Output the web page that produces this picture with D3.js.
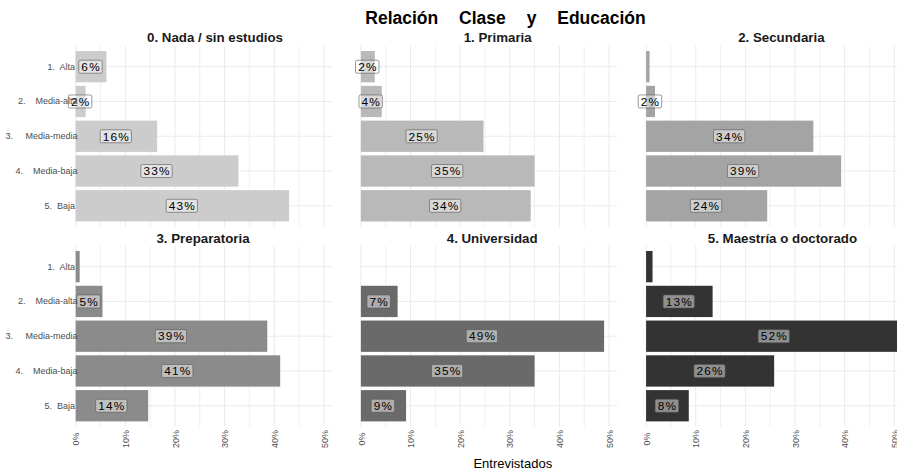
<!DOCTYPE html>
<html>
<head>
<meta charset="utf-8">
<script src="https://cdn.jsdelivr.net/npm/d3@7/dist/d3.min.js"></script>
<style>
  html, body { margin: 0; padding: 0; background: #ffffff; }
  svg { display: block; font-family: "Liberation Sans", Arial, Helvetica, sans-serif; }
</style>
</head>
<body>
<svg id="chart" width="897" height="471"></svg>
<script>
// ---------------- data ----------------
const chartTitle = "Relación Clase y Educación";
const xTitle = "Entrevistados";
const education = ["0. Nada / sin estudios", "1. Primaria", "2. Secundaria",
                   "3. Preparatoria", "4. Universidad", "5. Maestría o doctorado"];
const classes = ["1.  Alta ", "2.    Media-alta", "3.     Media-media", "4.    Media-baja", "5.  Baja "];

const pctNada        = [0.062, 0.020, 0.164, 0.328, 0.430];
const pctPrimaria    = [0.028, 0.042, 0.247, 0.350, 0.342];
const pctSecundaria  = [0.007, 0.018, 0.337, 0.393, 0.244];
const pctPrepa       = [0.008, 0.054, 0.386, 0.412, 0.146];
const pctUniversidad = [0.000, 0.074, 0.490, 0.350, 0.091];
const pctMaestria    = [0.013, 0.134, 0.517, 0.258, 0.086];

const labNada        = ["6%", "2%", "16%", "33%", "43%"];
const labPrimaria    = ["2%", "4%", "25%", "35%", "34%"];
const labSecundaria  = ["", "2%", "34%", "39%", "24%"];
const labPrepa       = ["", "5%", "39%", "41%", "14%"];
const labUniversidad = ["", "7%", "49%", "35%", "9%"];
const labMaestria    = ["", "13%", "52%", "26%", "8%"];

const xTicks = [0, 0.1, 0.2, 0.3, 0.4, 0.5];
const xMinor = [0.05, 0.15, 0.25, 0.35, 0.45];

// ---------------- layout ----------------
const seriesVals = [pctNada, pctPrimaria, pctSecundaria, pctPrepa, pctUniversidad, pctMaestria];
const seriesLabs = [labNada, labPrimaria, labSecundaria, labPrepa, labUniversidad, labMaestria];
const fills = ["#CCCCCC", "#B9B9B9", "#A4A4A4", "#8B8B8B", "#6A6A6A", "#333333"];

const panelLeft0 = 75.7, panelPitch = 285.2, panelW = 256.6;
const rowTops = [45.85, 245.8], panelH = 180.8;
const stripShift = [11, 8.5, 7, -1, 3, 8];
const stripBaseline = [41.7, 243.3];

const svg = d3.select("#chart");

const xMax = d3.max(seriesVals.flat());

// Title
svg.append("text")
  .attr("x", 505.5).attr("y", 23.5)
  .attr("text-anchor", "middle")
  .style("font-size", "17.5px").style("font-weight", "bold")
  .style("word-spacing", "16px")
  .attr("fill", "#000")
  .text(chartTitle);

education.forEach((edu, i) => {
  const col = i % 3, row = Math.floor(i / 3);
  const left = panelLeft0 + col * panelPitch;
  const top = rowTops[row];

  const x = d3.scaleLinear().domain([0, xMax]).range([left, left + panelW]);
  const y = d3.scaleBand().domain(classes).range([top, top + panelH])
              .paddingInner(0.1).paddingOuter(0.15);

  const g = svg.append("g");

  // grid
  g.selectAll(".hg").data(classes).enter().append("line")
    .attr("x1", left).attr("x2", left + panelW)
    .attr("y1", d => y(d) + y.bandwidth() / 2).attr("y2", d => y(d) + y.bandwidth() / 2)
    .attr("stroke", "#ebebeb").attr("stroke-width", 1);
  g.selectAll(".vm").data(xMinor).enter().append("line")
    .attr("x1", d => x(d)).attr("x2", d => x(d))
    .attr("y1", top).attr("y2", top + panelH)
    .attr("stroke", "#ebebeb").attr("stroke-width", 0.8);
  g.selectAll(".vg").data(xTicks).enter().append("line")
    .attr("x1", d => x(d)).attr("x2", d => x(d))
    .attr("y1", top).attr("y2", top + panelH)
    .attr("stroke", "#ebebeb").attr("stroke-width", 1);

  const data = classes.map((c, k) => ({ c, v: seriesVals[i][k], lab: seriesLabs[i][k] }));

  // bars
  g.selectAll(".bar").data(data.filter(d => d.v > 0)).enter().append("rect")
    .attr("x", x(0)).attr("y", d => y(d.c))
    .attr("width", d => x(d.v) - x(0)).attr("height", y.bandwidth())
    .attr("fill", fills[i]);

  // labels
  const lg = g.selectAll(".lab").data(data.filter(d => d.lab !== "")).enter().append("g")
    .attr("transform", d => `translate(${x(d.v / 2)},${y(d.c) + y.bandwidth() / 2})`);
  lg.append("rect");
  const texts = lg.append("text")
    .attr("text-anchor", "middle").attr("dy", "0.36em")
    .style("font-size", "11.8px").style("letter-spacing", "1.2px")
    .attr("fill", "#000")
    .text(d => d.lab);
  texts.each(function () {
    const w = this.getComputedTextLength() + 4;
    d3.select(this.previousSibling)
      .attr("x", -w / 2 - 0.6).attr("y", -6.5)
      .attr("width", w).attr("height", 13)
      .attr("rx", 1.5)
      .attr("fill", "#ffffff").attr("fill-opacity", 0.45)
      .attr("stroke", "#555").attr("stroke-width", 0.6);
  });

  // strip title
  svg.append("text")
    .attr("x", left + panelW / 2 + stripShift[i]).attr("y", stripBaseline[row])
    .attr("text-anchor", "middle")
    .style("font-size", "13.3px").style("font-weight", "bold")
    .attr("fill", "#1a1a1a")
    .text(edu);

  // y axis (left column only)
  if (col === 0) {
    const ya = svg.append("g").attr("transform", `translate(${left + 1.8},0)`)
      .call(d3.axisLeft(y).tickSize(0).tickPadding(0));
    ya.select(".domain").remove();
    ya.selectAll("text")
      .attr("fill", "#4d4d4d")
      .attr("xml:space", "preserve")
      .style("white-space", "pre")
      .style("font-size", "9px")
      .style("font-family", "'Liberation Sans', Arial, sans-serif");
  }

  // x axis (bottom row only)
  if (row === 1) {
    const xa = svg.append("g").attr("transform", `translate(0,${top + panelH})`)
      .call(d3.axisBottom(x).tickValues(xTicks).tickFormat(d3.format(".0%")).tickSize(0));
    xa.select(".domain").remove();
    xa.selectAll("text")
      .attr("x", 0).attr("y", 0).attr("dy", "0.35em")
      .attr("transform", "translate(0,12.3) rotate(-90)")
      .attr("text-anchor", "middle")
      .attr("fill", "#4d4d4d")
      .style("font-size", "9px")
      .style("font-family", "'Liberation Sans', Arial, sans-serif");
  }
});

// x axis title
svg.append("text")
  .attr("x", 512.8).attr("y", 468)
  .attr("text-anchor", "middle")
  .style("font-size", "13px")
  .attr("fill", "#000")
  .text(xTitle);
</script>
</body>
</html>
